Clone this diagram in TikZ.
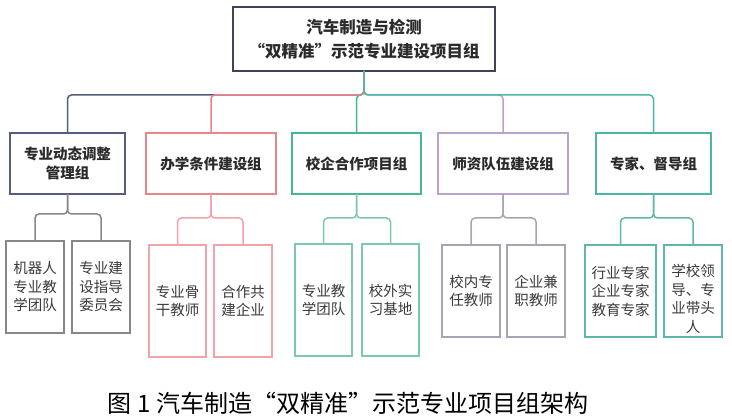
\documentclass[tikz,border=0pt]{standalone}
\usepackage{fontspec}
\setmainfont{Noto Sans CJK SC}
\definecolor{cTop}{HTML}{3E4456}
\definecolor{cNavy}{HTML}{555C7E}
\definecolor{cPink}{HTML}{E8858B}
\definecolor{cPinkL}{HTML}{F0A3A8}
\definecolor{cGreen}{HTML}{45B98D}
\definecolor{cGreenL}{HTML}{7CC8AE}
\definecolor{cPurple}{HTML}{B9A2CB}
\definecolor{cLav}{HTML}{A8A4B4}
\definecolor{cTeal}{HTML}{4DB5A8}
\definecolor{cTealL}{HTML}{5FB7AC}
\definecolor{cGray}{HTML}{86868E}
\definecolor{cText}{HTML}{2B2B2B}
\definecolor{cLeafText}{HTML}{3A3A3A}
\begin{document}
\begin{tikzpicture}[x=1pt,y=-1pt,
  every node/.style={inner sep=0pt, outer sep=0pt, align=center},
  topbox/.style={draw=cTop, line width=2pt, minimum width=262pt, minimum height=64pt,
    font=\fontsize{16.5}{24}\selectfont\bfseries, text=cText},
  midbox/.style={draw=#1, line width=2pt, minimum height=61pt,
    font=\fontsize{14.5}{18.5}\selectfont\bfseries, text=cText},
  leafbox/.style={draw=#1, line width=1.2pt, font=\fontsize{14.5}{18.5}\selectfont, text=cLeafText},
  link/.style={draw=#1, line width=1.5pt, rounded corners=4pt}]
\useasboundingbox (0,0) rectangle (732,417);
\fill[white] (0,0) rectangle (732,417);

% top
\node[topbox] (top) at (364,39) {汽车制造与检测\\“双精准”示范专业建设项目组};

% level 2
\node[midbox=cNavy, minimum width=115pt] (b1) at (67.5,163.5) {专业动态调整\\管理组};
\node[midbox=cPink, minimum width=130pt] (b2) at (211,163.5) {办学条件建设组};
\node[midbox=cGreen, minimum width=129pt] (b3) at (356.5,163.5) {校企合作项目组};
\node[midbox=cPurple, minimum width=130pt] (b4) at (503,163.5) {师资队伍建设组};
\node[midbox=cTeal, minimum width=115pt] (b5) at (653.5,163.5) {专家、督导组};

\draw[link=cNavy] (top.south) -- ++(0,24) -| (b1.north);
\draw[link=cGreen] (top.south) -- ++(0,24) -| (b3.north);
\draw[link=cPink] (top.south) -- ++(0,24) -| (b2.north);
\draw[link=cPurple] (top.south) -- ++(0,24) -| (b4.north);
\draw[link=cTeal] (top.south) -- ++(0,24) -| (b5.north);

% leaves
\node[leafbox=cGray, minimum width=58pt, minimum height=92pt] (l11) at (35,287) {机器人\\专业教\\学团队};
\node[leafbox=cGray, minimum width=58pt, minimum height=92pt] (l12) at (101,287) {专业建\\设指导\\委员会};
\node[leafbox=cPinkL, minimum width=57pt, minimum height=112pt] (l21) at (177.5,301) {专业骨\\干教师};
\node[leafbox=cPinkL, minimum width=58pt, minimum height=112pt] (l22) at (243,301) {合作共\\建企业};
\node[leafbox=cGreenL, minimum width=57pt, minimum height=112pt] (l31) at (323.5,300) {专业教\\学团队};
\node[leafbox=cGreenL, minimum width=57pt, minimum height=112pt] (l32) at (390.5,300) {校外实\\习基地};
\node[leafbox=cLav, minimum width=58pt, minimum height=92pt] (l41) at (471,291) {校内专\\任教师};
\node[leafbox=cLav, minimum width=58pt, minimum height=92pt] (l42) at (536,291) {企业兼\\职教师};
\node[leafbox=cTealL, minimum width=71pt, minimum height=92pt] (l51) at (620.5,291) {行业专家\\企业专家\\教育专家};
\node[leafbox=cTealL, minimum width=58pt, minimum height=92pt] (l52) at (693,291) {};
\node[font=\fontsize{14.5}{18.5}\selectfont, text=cLeafText] (l52t) at ([yshift=-8pt]l52.center) {学校领\\导、专\\业带头\\人};

\draw[link=cGray] (b1.south) -- ++(0,20) -| (l11.north);
\draw[link=cGray] (b1.south) -- ++(0,20) -| (l12.north);
\draw[link=cPinkL] (b2.south) -- ++(0,24) -| (l21.north);
\draw[link=cPinkL] (b2.south) -- ++(0,24) -| (l22.north);
\draw[link=cGreenL] (b3.south) -- ++(0,24) -| (l31.north);
\draw[link=cGreenL] (b3.south) -- ++(0,24) -| (l32.north);
\draw[link=cLav] (b4.south) -- ++(0,24) -| (l41.north);
\draw[link=cLav] (b4.south) -- ++(0,24) -| (l42.north);
\draw[link=cTealL] (b5.south) -- ++(0,24) -| (l51.north);
\draw[link=cTealL] (b5.south) -- ++(0,24) -| (l52.north);

% caption
\node[font=\fontsize{24}{24}\selectfont, text=black] (cap) at (348,403) {图 1 汽车制造“双精准”示范专业项目组架构};
\end{tikzpicture}
\end{document}
